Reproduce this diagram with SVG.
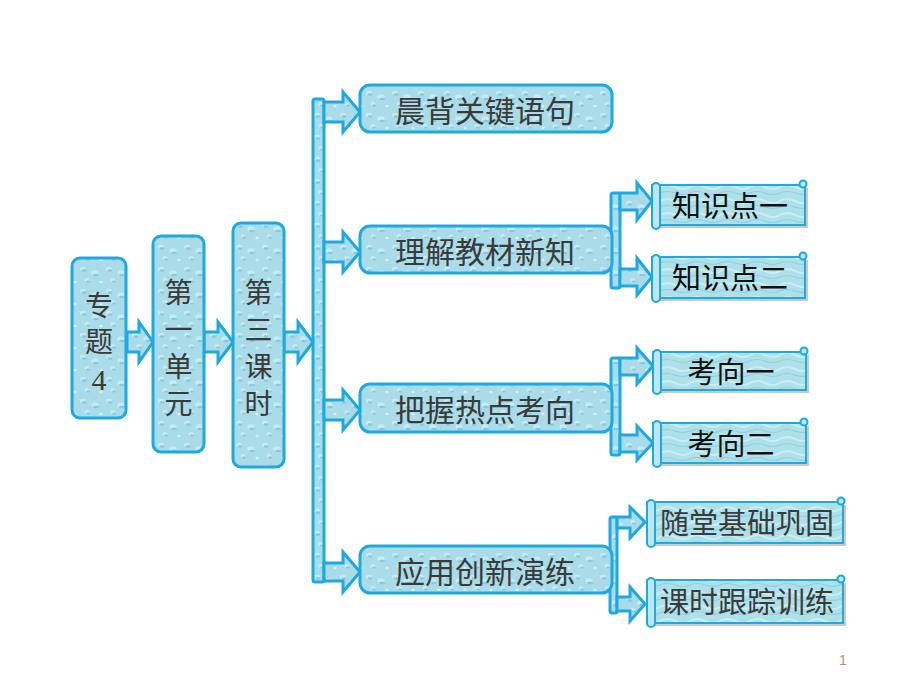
<svg xmlns="http://www.w3.org/2000/svg" width="920" height="690" viewBox="0 0 920 690">
<defs>
<pattern id="drops" x="0" y="0" width="26" height="22" patternUnits="userSpaceOnUse">
<rect width="26" height="22" fill="#a9dbe8"/>
<ellipse cx="5" cy="5" rx="3" ry="2.2" fill="#c6ebf4"/>
<ellipse cx="6" cy="6.5" rx="2.4" ry="1.2" fill="#88c8da"/>
<ellipse cx="17" cy="9" rx="3.6" ry="2.8" fill="#c6ebf4"/>
<ellipse cx="18" cy="11" rx="3" ry="1.3" fill="#88c8da"/>
<ellipse cx="9" cy="16" rx="2.6" ry="2" fill="#c6ebf4"/>
<ellipse cx="10" cy="17.5" rx="2" ry="1" fill="#88c8da"/>
<ellipse cx="23" cy="18" rx="1.6" ry="1.3" fill="#d6f2f7"/>
</pattern>
<pattern id="waves" x="0" y="0" width="30" height="14" patternUnits="userSpaceOnUse">
<rect width="30" height="14" fill="#aee0ea"/>
<path d="M0 5 Q7 1 15 5 T30 5" fill="none" stroke="#c9eef5" stroke-width="2"/>
<path d="M0 11 Q7 8 15 11 T30 11" fill="none" stroke="#92d0df" stroke-width="1.2"/>
</pattern>
</defs>
<style>
.box{fill:url(#drops);stroke:#1fa9e1;stroke-width:3}
.arr{fill:url(#drops);stroke:#1fa9e1;stroke-width:3;stroke-linejoin:miter}
.bar{fill:url(#drops);stroke:#1fa9e1;stroke-width:3}
.scroll{fill:url(#waves);stroke:#1fa9e1;stroke-width:2}
.roll{fill:#bde6ef;stroke:#1fa9e1;stroke-width:2}
.shadow{fill:#8a8a8a;opacity:0.45}
.t{font-family:"Noto Sans CJK SC","Noto Sans",sans-serif;fill:#3a3a3a;text-anchor:middle}
.vt{font-family:"Noto Sans CJK SC","Noto Sans",sans-serif;fill:#3a3a3a;font-size:28px;writing-mode:vertical-rl;text-orientation:upright;text-anchor:start}
.t2{font-size:30px}
.ts{font-family:"Noto Sans CJK SC","Noto Sans",sans-serif;fill:#111;text-anchor:middle;font-size:29px}
.tg{font-family:"Noto Sans CJK SC","Noto Sans",sans-serif;fill:#3a3a3a;text-anchor:middle;font-size:29px}
</style>
<rect width="920" height="690" fill="#ffffff"/>

<g id="connectors">
<polygon class="arr" points="127,332 139,332 139,322 153,342 139,362 139,352 127,352"/>
<polygon class="arr" points="204,332 218,332 218,322 233,342 218,362 218,352 204,352"/>
<polygon class="arr" points="284,332 298,332 298,322 313,342 298,362 298,352 284,352"/>
<rect class="bar" x="313" y="99" width="11" height="483" rx="2"/>
<polygon class="arr" points="324,102 343,102 343,92 360,112 343,132 343,122 324,122"/>
<polygon class="arr" points="324,242 343,242 343,232 360,252 343,272 343,262 324,262"/>
<polygon class="arr" points="324,400 343,400 343,390 360,410 343,430 343,420 324,420"/>
<polygon class="arr" points="324,563 343,563 343,552 360,572 343,592 343,581 324,581"/>
<rect class="bar" x="611" y="193" width="9" height="95" rx="2"/>
<polygon class="arr" points="620,193 637,193 637,183 652,201 637,220 637,210 620,210"/>
<polygon class="arr" points="620,269 637,269 637,258 652,277 637,295 637,286 620,286"/>
<rect class="bar" x="611" y="358" width="9" height="97" rx="2"/>
<polygon class="arr" points="620,358 637,358 637,348 653,366 637,384 637,375 620,375"/>
<polygon class="arr" points="620,435 637,435 637,426 653,443 637,460 637,452 620,452"/>
<rect class="bar" x="610" y="517" width="7" height="96" rx="2"/>
<polygon class="arr" points="617,517 630,517 630,507 645,522 630,538 630,528 617,528"/>
<polygon class="arr" points="617,597 630,597 630,587 645,604 630,621 630,611 617,611"/>
</g>

<g id="n-zhuanti">
<rect class="box" x="72" y="258" width="54" height="160" rx="8"/>
<text class="vt" x="99" y="291" style="letter-spacing:8px">专题<tspan style="font-family:'Liberation Serif',serif;font-size:30px">4</tspan></text>
</g>
<g id="n-danyuan">
<rect class="box" x="153" y="236" width="51" height="216" rx="8"/>
<text class="vt" x="178.5" y="278" style="letter-spacing:9px">第一单元</text>
</g>
<g id="n-keshi">
<rect class="box" x="233" y="223" width="51" height="244" rx="8"/>
<text class="vt" x="258.5" y="278" style="letter-spacing:9px">第三课时</text>
</g>

<g id="n-chenbei">
<rect class="box" x="360" y="85" width="252" height="47" rx="10"/>
<text class="t t2" x="485" y="122">晨背关键语句</text>
</g>
<g id="n-lijie">
<rect class="box" x="360" y="226" width="252" height="47" rx="10"/>
<text class="t t2" x="485" y="263">理解教材新知</text>
</g>
<g id="n-bawo">
<rect class="box" x="360" y="384" width="252" height="48" rx="10"/>
<text class="t t2" x="485" y="421">把握热点考向</text>
</g>
<g id="n-yingyong">
<rect class="box" x="360" y="546" width="252" height="47" rx="10"/>
<text class="t t2" x="485" y="583">应用创新演练</text>
</g>

<g id="n-zsd1">
<rect class="shadow" x="655" y="188" width="153" height="40"/>
<rect class="scroll" x="652" y="185" width="153" height="40"/>
<rect class="roll" x="652" y="183" width="8" height="46" rx="4"/>
<circle class="roll" cx="803" cy="184" r="3.5"/>
<text class="ts" x="730" y="217">知识点一</text>
</g>
<g id="n-zsd2">
<rect class="shadow" x="655" y="260" width="153" height="41"/>
<rect class="scroll" x="652" y="257" width="153" height="41"/>
<rect class="roll" x="652" y="255" width="8" height="47" rx="4"/>
<circle class="roll" cx="803" cy="256" r="3.5"/>
<text class="ts" x="730" y="289">知识点二</text>
</g>
<g id="n-kx1">
<rect class="shadow" x="656" y="355" width="153" height="38"/>
<rect class="scroll" x="653" y="352" width="153" height="38"/>
<rect class="roll" x="653" y="350" width="8" height="44" rx="4"/>
<circle class="roll" cx="804" cy="351" r="3.5"/>
<text class="ts" x="731" y="383">考向一</text>
</g>
<g id="n-kx2">
<rect class="shadow" x="656" y="426" width="153" height="40"/>
<rect class="scroll" x="653" y="423" width="153" height="40"/>
<rect class="roll" x="653" y="421" width="8" height="46" rx="4"/>
<circle class="roll" cx="804" cy="422" r="3.5"/>
<text class="ts" x="731" y="455">考向二</text>
</g>
<g id="n-suitang">
<rect class="shadow" x="650" y="505" width="196" height="41"/>
<rect class="scroll" x="647" y="502" width="196" height="41"/>
<rect class="roll" x="647" y="500" width="8" height="47" rx="4"/>
<circle class="roll" cx="841" cy="501" r="3.5"/>
<text class="tg" x="747" y="534">随堂基础巩固</text>
</g>
<g id="n-kehou">
<rect class="shadow" x="650" y="583" width="196" height="43"/>
<rect class="scroll" x="647" y="580" width="196" height="43"/>
<rect class="roll" x="647" y="578" width="8" height="49" rx="4"/>
<circle class="roll" cx="841" cy="579" r="3.5"/>
<text class="tg" x="747" y="613">课时跟踪训练</text>
</g>

<text x="843" y="665" style="font-family:'Liberation Sans',sans-serif;font-size:14px;fill:#999;text-anchor:middle">1</text>
</svg>
